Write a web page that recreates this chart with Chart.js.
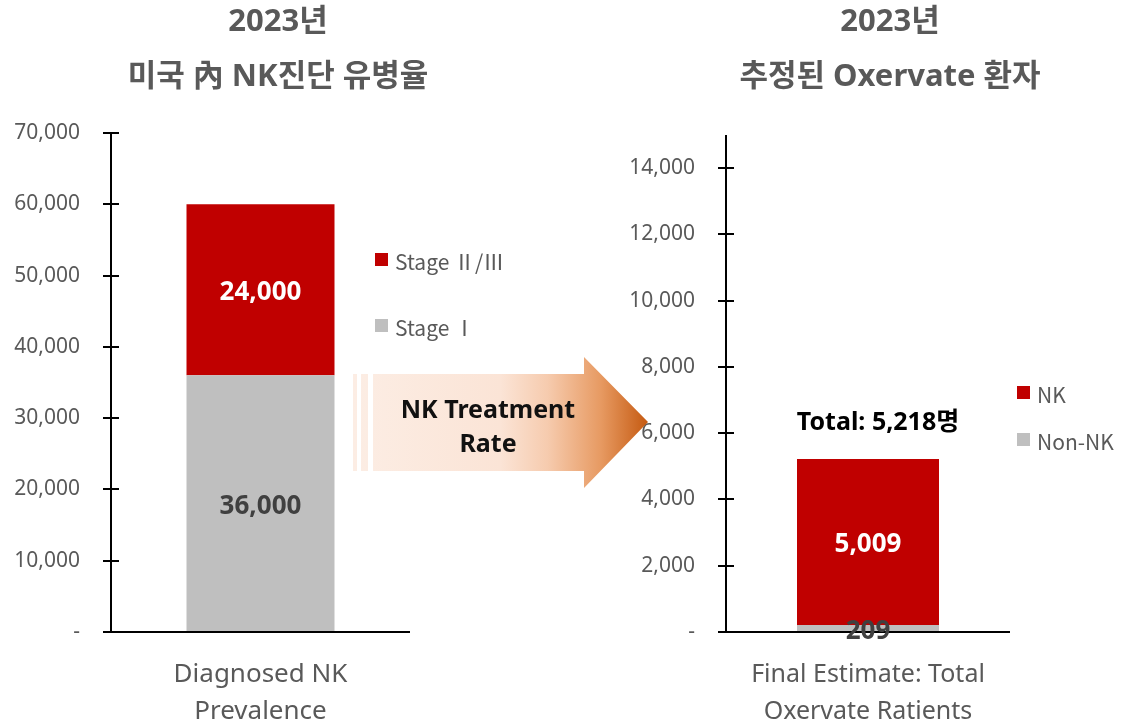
<!DOCTYPE html>
<html>
<head>
<meta charset="utf-8">
<script src="https://cdn.jsdelivr.net/npm/chart.js@4/dist/chart.umd.min.js"></script>
<style>
  html, body { margin: 0; padding: 0; background: #fff; overflow: hidden; }
  #wrap { position: relative; width: 1147px; height: 723px; overflow: hidden; }
  #c1 { position: absolute; left: 0; top: 0; }
  #c2 { position: absolute; left: 620px; top: 0; }
  #arrow { position: absolute; left: 0; top: 0; pointer-events: none; }
</style>
</head>
<body>
<div id="wrap">
  <canvas id="c1" width="556" height="723"></canvas>
  <canvas id="c2" width="540" height="723"></canvas>
  <svg id="arrow" width="1147" height="723">
    <defs>
      <linearGradient id="arrowFill" gradientUnits="userSpaceOnUse" x1="353" y1="0" x2="648" y2="0">
        <stop offset="0" stop-color="#FCEDE4"/>
        <stop offset="0.5" stop-color="#FBE4D6"/>
        <stop offset="0.66" stop-color="#F6CBAE"/>
        <stop offset="0.84" stop-color="#E79A62"/>
        <stop offset="1" stop-color="#C55A11"/>
      </linearGradient>
    </defs>
    <rect x="353" y="374" width="4" height="97" fill="url(#arrowFill)"/>
    <rect x="361" y="374" width="7" height="97" fill="url(#arrowFill)"/>
    <polygon points="373,374 584,374 584,357 648,422 584,488 584,471 373,471" fill="url(#arrowFill)"/>
    <text x="488" y="408" text-anchor="middle" dominant-baseline="central"
          font-family="'Noto Sans', 'Noto Sans CJK KR', sans-serif" font-weight="bold" font-size="25" fill="#111">NK Treatment</text>
    <text x="488" y="442" text-anchor="middle" dominant-baseline="central"
          font-family="'Noto Sans', 'Noto Sans CJK KR', sans-serif" font-weight="bold" font-size="25" fill="#111">Rate</text>
  </svg>
</div>
<script>
// ---- data ----
const leftTitle = ['2023년', '미국 內 NK진단 유병율'];
const leftCategories = [['Diagnosed NK', 'Prevalence']];
const stageOne = [36000];
const stageTwoThree = [24000];
const leftYMax = 70000;
const leftTicks = [0, 10000, 20000, 30000, 40000, 50000, 60000, 70000];

const rightTitle = ['2023년', '추정된 Oxervate 환자'];
const rightCategories = [['Final Estimate: Total', 'Oxervate Ratients']];
const nonNK = [209];
const nkPatients = [5009];
const rightYMax = 15000;
const rightTicks = [0, 2000, 4000, 6000, 8000, 10000, 12000, 14000];

const FONT = "'Noto Sans', 'Noto Sans CJK KR', sans-serif";
const CJK_FONT = "'Noto Sans CJK KR', 'Noto Sans', sans-serif";
const RED = '#C00000';
const GREY = '#BFBFBF';
const TEXT_GREY = '#595959';

function fmt(v) {
    return v === 0 ? '-' : v.toLocaleString('en-US');
}

// axes, titles, value labels, legend
function decor(opt) {
    return {
        id: 'decor',
        afterDatasetsDraw(chart) {
            const ctx = chart.ctx;
            const a = chart.chartArea;
            const ys = chart.scales.y;
            ctx.save();

            // axis lines with crossing ticks
            ctx.strokeStyle = '#000';
            ctx.lineWidth = 2;
            ctx.beginPath();
            ctx.moveTo(a.left, a.top);
            ctx.lineTo(a.left, a.bottom);
            ctx.moveTo(a.left - 8, a.bottom);
            ctx.lineTo(a.right, a.bottom);
            ys.ticks.forEach((t) => {
                if (t.value === 0) return;
                const py = Math.round(ys.getPixelForValue(t.value));
                ctx.moveTo(a.left - 8, py);
                ctx.lineTo(a.left + 8, py);
            });
            ctx.stroke();

            // value labels
            ctx.textAlign = 'center';
            ctx.textBaseline = 'middle';
            ctx.font = 'bold 26px ' + FONT;
            chart.data.datasets.forEach((ds, i) => {
                chart.getDatasetMeta(i).data.forEach((bar, j) => {
                    ctx.fillStyle = ds.labelColor;
                    ctx.fillText(fmt(ds.data[j]), bar.x, (bar.y + bar.base) / 2 + 3);
                });
            });

            // total above stack
            if (opt.total) {
                const last = chart.getDatasetMeta(chart.data.datasets.length - 1).data[0];
                const sum = chart.data.datasets.reduce((s, ds) => s + ds.data[0], 0);
                ctx.font = 'bold 25px ' + FONT;
                ctx.fillStyle = '#000';
                ctx.fillText('Total: ' + fmt(sum) + '명', last.x + 10, last.y - 36);
            }

            // title
            ctx.font = 'bold 31px ' + FONT;
            ctx.fillStyle = TEXT_GREY;
            opt.title.forEach((line, k) => {
                ctx.fillText(line, chart.width / 2, 22 + k * 55);
            });

            // legend (top of stack first)
            ctx.textAlign = 'left';
            ctx.font = '21px ' + CJK_FONT;
            const items = chart.data.datasets.slice().reverse();
            items.forEach((ds, k) => {
                const cy = opt.legend.y[k];
                ctx.fillStyle = ds.backgroundColor;
                ctx.fillRect(opt.legend.x, cy - 6, 13, 13);
                ctx.fillStyle = TEXT_GREY;
                ctx.fillText(ds.label, opt.legend.x + 20, cy + 3);
            });

            ctx.restore();
        },
    };
}

function makeConfig(cats, lower, upper, labels, yMax, tickValues, axisWidth, padRight, padTop, barPct, catSize, opt) {
    return {
        type: 'bar',
        data: {
            labels: cats,
            datasets: [
                { label: labels[0], data: lower, backgroundColor: GREY, labelColor: '#404040' },
                { label: labels[1], data: upper, backgroundColor: RED, labelColor: '#fff' },
            ],
        },
        options: {
            responsive: false,
            animation: false,
            layout: { padding: { left: 0, right: padRight, top: padTop, bottom: 0 } },
            datasets: { bar: { categoryPercentage: 1, barPercentage: barPct, borderWidth: 0 } },
            plugins: { legend: { display: false }, tooltip: { enabled: false } },
            scales: {
                x: {
                    stacked: true,
                    grid: { display: false },
                    border: { display: false },
                    ticks: {
                        color: TEXT_GREY,
                        font: { family: FONT, size: catSize, lineHeight: 37 / catSize },
                        padding: 16,
                        maxRotation: 0,
                    },
                    afterFit: (s) => { s.height = 91; },
                },
                y: {
                    stacked: true,
                    min: 0,
                    max: yMax,
                    grid: { display: false },
                    border: { display: false },
                    ticks: {
                        color: TEXT_GREY,
                        font: { family: FONT, size: 21 },
                        padding: 23,
                        callback: (v) => fmt(v),
                    },
                    afterBuildTicks: (s) => { s.ticks = tickValues.map((v) => ({ value: v })); },
                    afterFit: (s) => { s.width = axisWidth; },
                },
            },
        },
        plugins: [decor(opt)],
    };
}

new Chart(document.getElementById('c1'), makeConfig(
    leftCategories, stageOne, stageTwoThree, ['Stage Ⅰ', 'Stage Ⅱ/Ⅲ'],
    leftYMax, leftTicks, 111, 146, 133, 0.495, 26,
    { title: leftTitle, legend: { x: 375, y: [259, 325] }, total: false }
));

new Chart(document.getElementById('c2'), makeConfig(
    rightCategories, nonNK, nkPatients, ['Non-NK', 'NK'],
    rightYMax, rightTicks, 106, 150, 135, 0.5, 25,
    { title: rightTitle, legend: { x: 397, y: [392, 439] }, total: true }
));
</script>
</body>
</html>
